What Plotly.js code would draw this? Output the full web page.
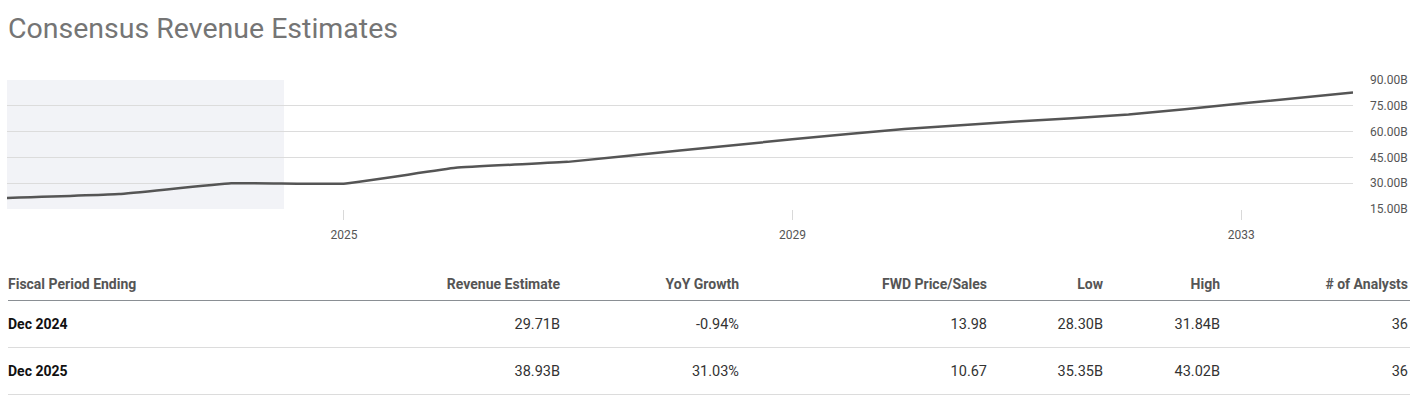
<!DOCTYPE html>
<html>
<head>
<meta charset="utf-8">
<script src="https://cdn.plot.ly/plotly-3.0.1.min.js"></script>
<style>
  html, body { margin: 0; padding: 0; background: #fff; width: 1424px; height: 396px; overflow: hidden; font-family: Roboto, "Noto Sans", Arial, sans-serif; }
  #chart { position: absolute; left: 0; top: 0; width: 1424px; height: 250px; }
  #tbl { position: absolute; left: 8px; top: 267px; width: 1402px; border-collapse: collapse; table-layout: fixed; font-family: Roboto, Arial, sans-serif; font-size: 14px; }
  #tbl th { height: 33px; padding: 0; font-weight: 700; color: #555; border-bottom: 1px solid #8a8f94; vertical-align: middle; }
  #tbl td { height: 46px; padding: 0; color: #333; border-bottom: 1px solid #dcdcdc; vertical-align: middle; font-size: 14.5px; }
  #tbl td.first { font-weight: 700; color: #111; font-size: 14px; }
</style>
</head>
<body>
<div id="chart"></div>
<table id="tbl"></table>
<script>
// ---- chart data ----
const periods = ['2021-12-31','2022-12-31','2023-12-31','2024-12-31','2025-12-31','2026-12-31','2027-12-31','2028-12-31','2029-12-31','2030-12-31','2031-12-31','2032-12-31','2033-12-31'];
const revenueB = [21.4, 23.7, 29.99, 29.71, 38.93, 42.4, 49.0, 55.5, 61.5, 65.8, 69.9, 76.3, 82.7];
const historicalEnd = '2024-06-20';
const xTickVals = ['2025-01-01','2029-01-01','2033-01-01'];
const xTickText = ['2025','2029','2033'];

// ---- table data ----
const tableHeaders = ['Fiscal Period Ending','Revenue Estimate','YoY Growth','FWD Price/Sales','Low','High','# of Analysts'];
const fiscalPeriods = ['Dec 2024','Dec 2025'];
const revenueEstimates = ['29.71B','38.93B'];
const yoyGrowth = ['-0.94%','31.03%'];
const fwdPriceSales = ['13.98','10.67'];
const lowEst = ['28.30B','35.35B'];
const highEst = ['31.84B','43.02B'];
const analysts = ['36','36'];

const trace = {
  x: periods, y: revenueB, type: 'scatter', mode: 'lines',
  line: {color: '#555555', width: 2.5, shape: 'spline', smoothing: 0.3},
  hoverinfo: 'skip'
};

const layout = {
  width: 1424, height: 250,
  margin: {l: 7, r: 71, t: 80, b: 41},
  paper_bgcolor: '#fff', plot_bgcolor: '#fff',
  showlegend: false,
  title: {
    text: 'Consensus Revenue Estimates',
    font: {family: 'Roboto, Arial, sans-serif', size: 28.5, color: '#757575'},
    x: 8/1424, xref: 'container', xanchor: 'left',
    y: 1 - 28/250, yref: 'container', yanchor: 'middle'
  },
  xaxis: {
    type: 'date', range: ['2021-12-31','2033-12-31'],
    tickmode: 'array', tickvals: xTickVals, ticktext: xTickText,
    showgrid: false, zeroline: false, showline: false,
    ticks: 'outside', ticklen: 10, tickcolor: '#d9d9d9', tickwidth: 1,
    ticklabelstandoff: 5,
    tickfont: {family: 'Roboto, Arial, sans-serif', size: 12, color: '#555'},
    fixedrange: true
  },
  yaxis: {
    side: 'right', range: [15, 90], tickmode: 'linear', tick0: 15, dtick: 15,
    tickformat: '.2f', ticksuffix: 'B',
    showgrid: true, gridcolor: '#dcdcdc', gridwidth: 1,
    zeroline: false, showline: false, ticks: '',
    ticklabelstandoff: 16,
    tickfont: {family: 'Roboto, Arial, sans-serif', size: 12, color: '#555'},
    fixedrange: true
  },
  shapes: [{
    type: 'rect', xref: 'x', yref: 'paper', layer: 'below',
    x0: periods[0], x1: historicalEnd, y0: 0, y1: 1,
    fillcolor: '#f2f3f7', line: {width: 0}
  }]
};

Plotly.newPlot('chart', [trace], layout, {displayModeBar: false, staticPlot: true});

// ---- build table ----
const colWidths = [292, 260, 179, 248, 116, 117, 190];
const aligns = ['left','right','right','right','right','right','right'];
const tbl = document.getElementById('tbl');
const cg = document.createElement('colgroup');
colWidths.forEach(w => { const c = document.createElement('col'); c.style.width = w + 'px'; cg.appendChild(c); });
tbl.appendChild(cg);
const thead = document.createElement('thead');
const hr = document.createElement('tr');
tableHeaders.forEach((h, i) => {
  const th = document.createElement('th'); th.textContent = h; th.style.textAlign = aligns[i];
  if (i === tableHeaders.length - 1) th.style.paddingRight = '2px';
  hr.appendChild(th);
});
thead.appendChild(hr); tbl.appendChild(thead);
const tbody = document.createElement('tbody');
fiscalPeriods.forEach((p, r) => {
  const tr = document.createElement('tr');
  const vals = [p, revenueEstimates[r], yoyGrowth[r], fwdPriceSales[r], lowEst[r], highEst[r], analysts[r]];
  vals.forEach((v, i) => {
    const td = document.createElement('td'); td.textContent = v; td.style.textAlign = aligns[i];
    if (i === 0) td.className = 'first';
    if (i === vals.length - 1) td.style.paddingRight = '2px';
    tr.appendChild(td);
  });
  tbody.appendChild(tr);
});
tbl.appendChild(tbody);
</script>
</body>
</html>
